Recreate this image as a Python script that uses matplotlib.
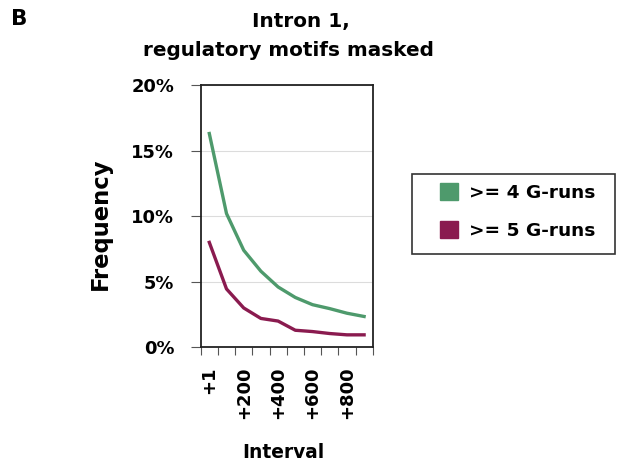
import matplotlib
matplotlib.use("Agg")
import matplotlib.pyplot as plt
from matplotlib.patches import Patch, Rectangle
from matplotlib.ticker import FuncFormatter

plt.rcParams['font.family'] = ['DejaVu Sans']
plt.rcParams['font.weight'] = 'bold'

intervals = ["+1", "+100", "+200", "+300", "+400", "+500", "+600", "+700", "+800", "+900"]
g4_runs = [16.3, 10.2, 7.4, 5.8, 4.6, 3.8, 3.25, 2.95, 2.6, 2.35]
g5_runs = [8.0, 4.45, 3.0, 2.2, 2.0, 1.3, 1.2, 1.05, 0.95, 0.95]
shown_labels = ["+1", "+200", "+400", "+600", "+800"]

green = "#4e9a6c"
purple = "#8a1b4f"

W, H = 617, 462
fig = plt.figure(figsize=(W / 100, H / 100), dpi=100)
ax = fig.add_axes([200.7 / W, 1 - 347.3 / H, 172.0 / W, 262.3 / H])

x = list(range(len(intervals)))
ax.plot(x, g4_runs, color=green, lw=2.4, solid_joinstyle='round')
ax.plot(x, g5_runs, color=purple, lw=2.4, solid_joinstyle='round')

ax.set_xlim(-0.5, len(intervals) - 0.5)
ax.set_ylim(0, 20)
ax.set_yticks([0, 5, 10, 15, 20])
ax.yaxis.set_major_formatter(FuncFormatter(lambda v, p: f"{v:.0f}%"))
ax.grid(axis='y', color='#dcdcdc', lw=0.8)
ax.set_axisbelow(True)

# category boundaries carry the tick marks; labels sit at category centres
ax.set_xticks([i - 0.5 for i in range(len(intervals) + 1)])
ax.set_xticklabels([])
ax.set_xticks([intervals.index(s) for s in shown_labels], minor=True)
ax.set_xticklabels(shown_labels, minor=True, rotation=90, fontsize=13, fontweight='bold')
ax.tick_params(axis='x', which='minor', length=0, pad=14)
ax.tick_params(axis='x', which='major', length=6, direction='out', color='#555555')
ax.tick_params(axis='y', length=7, direction='out', color='#555555', labelsize=12.9, pad=12)
for lab in ax.get_yticklabels():
    lab.set_fontweight('bold')

for s in ax.spines.values():
    s.set_linewidth(1.3)
    s.set_color('#222222')

fig.text(100 / W, 1 - 224 / H, "Frequency", rotation=90, ha='center', va='center',
         fontsize=16.3, fontweight='bold')
fig.text(283 / W, 1 - 452 / H, "Interval", ha='center', va='center',
         fontsize=13.4, fontweight='bold')

fig.text(301 / W, 1 - 22 / H, "Intron 1,", ha='center', va='center', fontsize=14.4, fontweight='bold')
fig.text(288 / W, 1 - 51 / H, "regulatory motifs masked", ha='center', va='center',
         fontsize=14.4, fontweight='bold')
fig.text(11 / W, 1 - 19 / H, "B", ha='left', va='center', fontsize=15.5, fontweight='bold')

# legend box drawn separately so the padding can be uneven
fig.patches.append(Rectangle((412 / W, 1 - 254 / H), 203 / W, 80 / H,
                             transform=fig.transFigure, facecolor='white',
                             edgecolor='#333333', lw=1.2))
handles = [Patch(facecolor=green, edgecolor=green, label=">= 4 G-runs"),
           Patch(facecolor=purple, edgecolor=purple, label=">= 5 G-runs")]
leg = fig.legend(handles=handles, loc='upper left', bbox_to_anchor=(440 / W, 1 - 183 / H),
                 frameon=False, fontsize=13.3, handlelength=1.0,
                 handleheight=1.0, borderpad=0, labelspacing=1.05, handletextpad=0.55,
                 borderaxespad=0)
for t in leg.get_texts():
    t.set_fontweight('bold')

fig.savefig("out.png", dpi=100)
